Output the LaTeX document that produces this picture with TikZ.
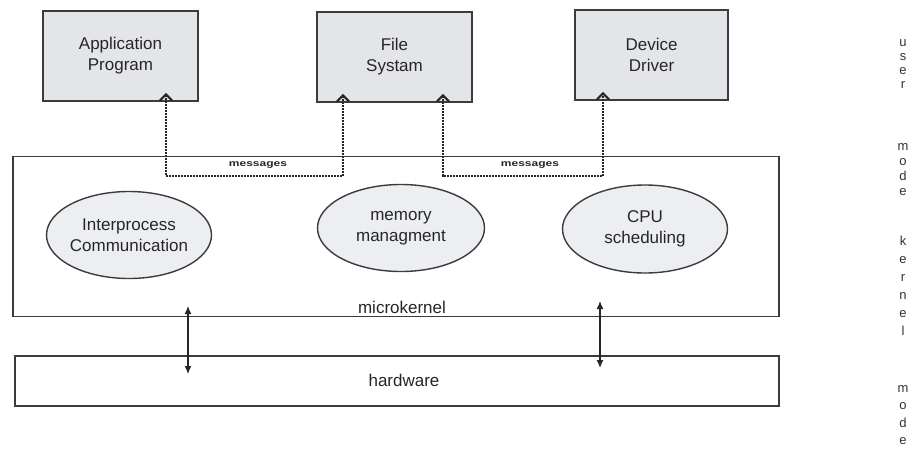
\documentclass[tikz,border=0pt]{standalone}
\usepackage{fontspec}
\setmainfont{Liberation Sans}
\usetikzlibrary{shapes.geometric,arrows.meta}
\definecolor{boxfill}{HTML}{E4E5E8}
\definecolor{ellfill}{HTML}{ECEEF1}
\definecolor{linecol}{HTML}{3C3C3C}
\begin{document}
\begin{tikzpicture}[x=1pt,y=-1pt,
  txt/.style={font=\fontsize{17}{21}\selectfont, text=black!85, align=center, inner sep=0pt},
  userbox/.style={draw=linecol, line width=1.6pt, fill=boxfill, minimum width=155pt, minimum height=90pt, txt},
  layerbox/.style={draw=linecol, line width=1.4pt, fill=white, inner sep=0pt},
  ell/.style={ellipse, draw=linecol, line width=1.4pt, fill=ellfill, minimum width=165pt, minimum height=87pt, inner sep=0pt},
  msg/.style={draw=black!85, line width=1.8pt, dash pattern=on 1.6pt off 1.4pt,
    {Straight Barb[length=6pt,width=12pt,line width=2.2pt]}-{Straight Barb[length=6pt,width=12pt,line width=2.2pt]}},
  msglabel/.style={font=\bfseries\fontsize{12}{12}\selectfont, text=black!85, yscale=0.75, inner sep=0pt},
  hwarrow/.style={draw=black!85, line width=1.2pt, {Latex[length=8pt,width=7pt]}-{Latex[length=8pt,width=7pt]}},
  vtext/.style={font=\fontsize{13}{14}\selectfont, text=black!80, align=center, inner sep=0pt}
]
\useasboundingbox[fill=white] (0,0) rectangle (916,458);

% layers
\node[layerbox, minimum width=766pt, minimum height=160pt] (kern) at (396,236.5) {};
\node[layerbox, minimum width=764pt, minimum height=50pt] (hw) at (397,381) {};
\node[txt] (kernlabel) at (402,307) {microkernel};
\node[txt] (hwlabel) at (404,380) {hardware};

% user boxes
\node[userbox] (app) at (120.5,56) {Application\\Program};
\node[userbox] (fs) at (394.5,57) {File\\Systam};
\node[userbox, minimum width=153pt] (dd) at (651.5,55) {Device\\Driver};

% ellipses
\node[ell] (ipc) at (129,235) {};
\node[txt] (ipct) at (ipc) {Interprocess\\Communication};
\node[ell, minimum width=167pt] (mem) at (401,228) {};
\node[txt] (memt) at (mem) {memory\\managment};
\node[ell, minimum height=88pt] (cpu) at (645,229) {};
\node[txt] (cput) at (cpu) {CPU\\scheduling};

% message paths
\coordinate (m1) at (166,176);
\coordinate (m2) at (343,176);
\coordinate (m3) at (443,176);
\coordinate (m4) at (603,176);
\draw[msg] ([yshift=9pt]app.south -| m1) -- (m1) -- (m2) -- ([yshift=9pt]fs.south -| m2);
\draw[msg] ([yshift=9pt]fs.south -| m3) -- (m3) -- (m4) -- ([yshift=9pt]dd.south -| m4);
\node[msglabel] (msg1) at (258,165) {messages};
\node[msglabel] (msg2) at (530,165) {messages};

% kernel <-> hardware
\coordinate (k1) at (188,306);
\coordinate (h1) at (188,374);
\coordinate (k2) at (600,301);
\coordinate (h2) at (600,368);
\draw[hwarrow] (k1) -- (h1);
\draw[hwarrow] (k2) -- (h2);

% vertical mode labels
\node[vtext, font=\fontsize{13}{14}\selectfont] (umode1) at (903,64) {u\\s\\e\\r};
\node[vtext, font=\fontsize{13}{15}\selectfont] (umode2) at (903,170) {m\\o\\d\\e};
\node[vtext, font=\fontsize{13}{18}\selectfont] (kmode1) at (903,286) {k\\e\\r\\n\\e\\l};
\node[vtext, font=\fontsize{13}{17.5}\selectfont] (kmode2) at (903,415) {m\\o\\d\\e};
\end{tikzpicture}
\end{document}
